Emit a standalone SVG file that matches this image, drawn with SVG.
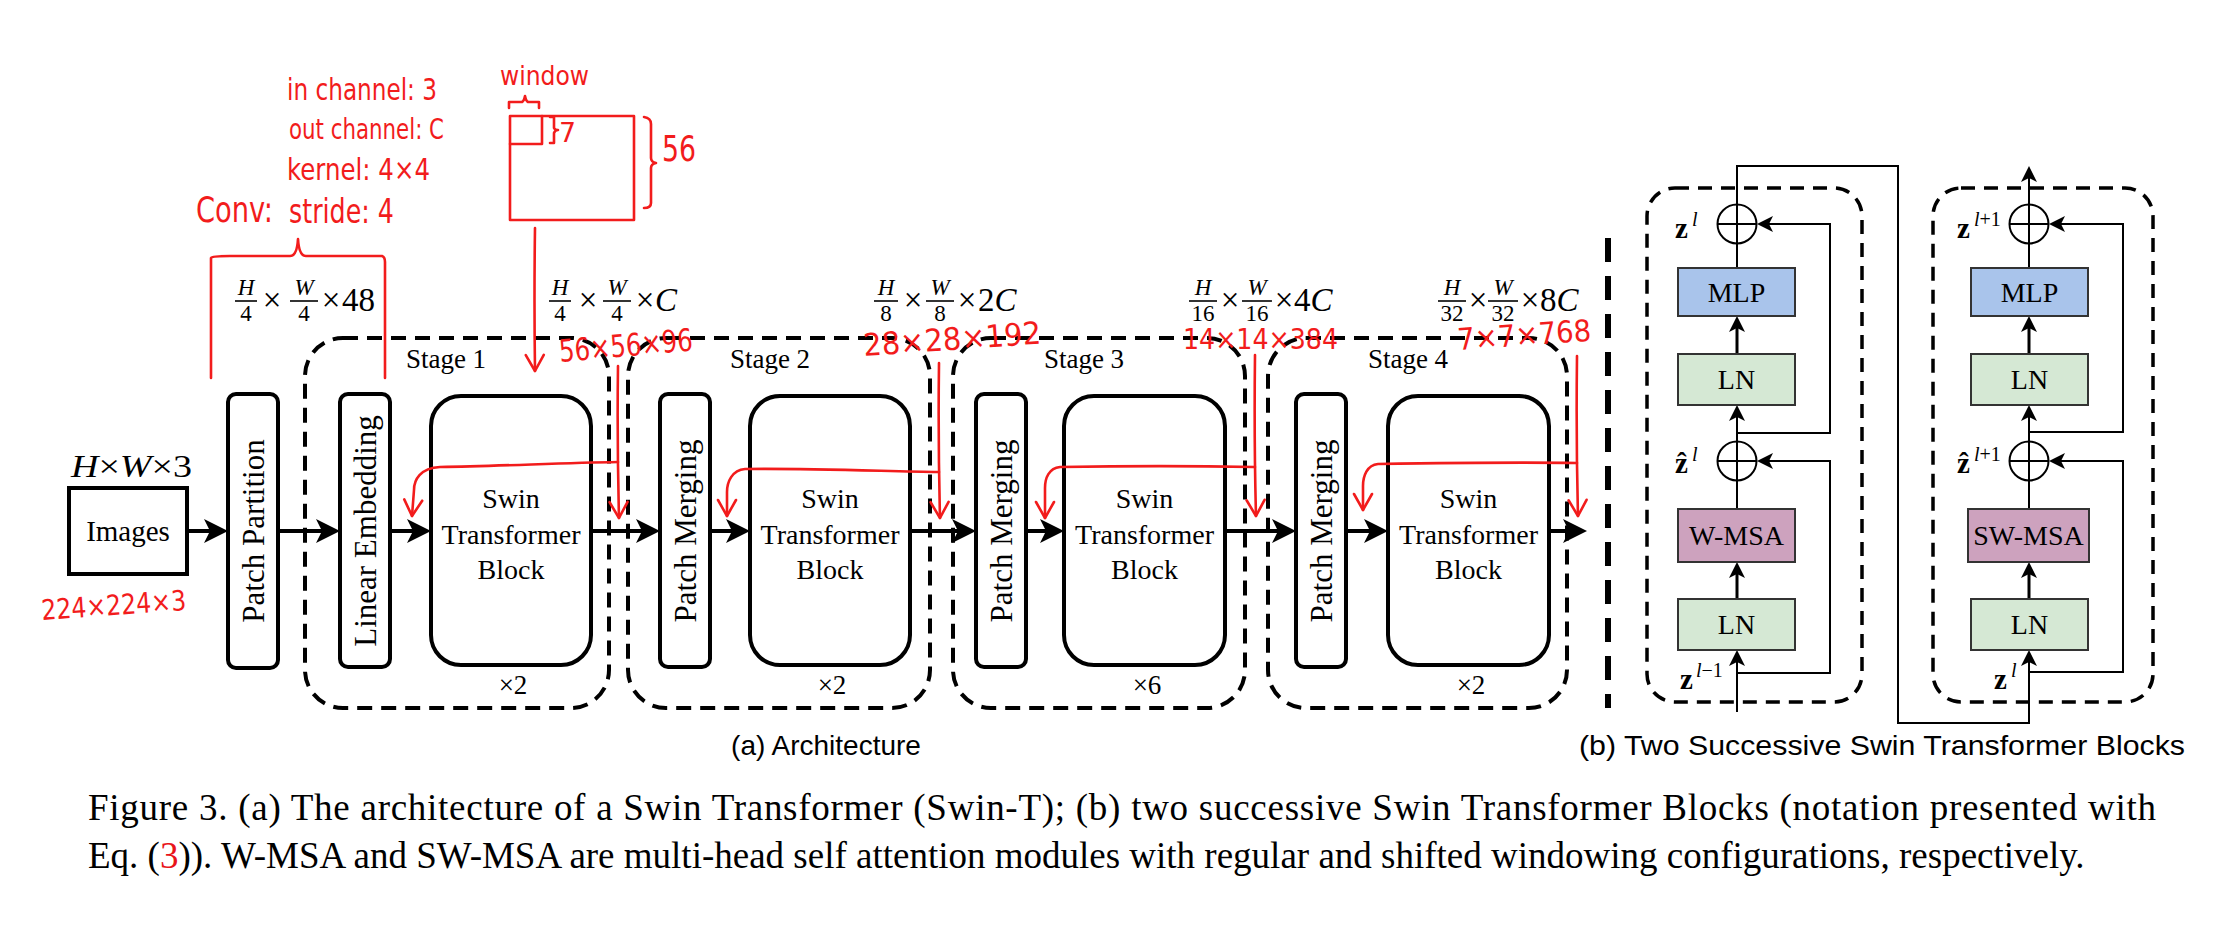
<svg xmlns="http://www.w3.org/2000/svg" width="2233" height="927" viewBox="0 0 2233 927">
<style>
.serif{font-family:"Liberation Serif","Times New Roman",serif;fill:#000}
.sans{font-family:"Liberation Sans",Arial,sans-serif;fill:#000}
.it{font-style:italic}
.bd{font-weight:bold}
.lbl{font-size:28px}
.rot{font-size:31px}
.frac{font-size:23px}
.big{font-size:33px}
.box{fill:#fff;stroke:#000;stroke-width:4}
.stage{fill:none;stroke:#000;stroke-width:4;stroke-dasharray:15 9}
.bdash{fill:none;stroke:#000;stroke-width:3.5;stroke-dasharray:14 9}
.conn{fill:none;stroke:#000;stroke-width:4}
.thin{fill:none;stroke:#000;stroke-width:2}
.mid{fill:none;stroke:#000;stroke-width:3}
.bar{stroke:#000;stroke-width:1.6}
.mlp{fill:#A9C4EB;stroke:#333;stroke-width:2}
.ln{fill:#D5E8D4;stroke:#333;stroke-width:2}
.msa{fill:#CDA2BE;stroke:#333;stroke-width:2}
.red{fill:none;stroke:#f21c1c;stroke-width:2.6;stroke-linecap:round;stroke-linejoin:round}
.rt{font-family:"DejaVu Sans","Liberation Sans",sans-serif;fill:#f21c1c}
</style>
<defs>
<marker id="ah" markerUnits="userSpaceOnUse" markerWidth="24" markerHeight="24" viewBox="0 0 24 24" refX="16" refY="12" orient="auto"><path d="M0,0 L24,12 L0,24 L6,12 z" fill="#000"/></marker>
<marker id="ahs" markerUnits="userSpaceOnUse" markerWidth="16" markerHeight="16" viewBox="0 0 16 16" refX="11" refY="8" orient="auto"><path d="M0,0 L16,8 L0,16 L4,8 z" fill="#000"/></marker>
<marker id="rv" markerUnits="userSpaceOnUse" markerWidth="22" markerHeight="22" viewBox="0 0 22 22" refX="19" refY="11" orient="auto"><path d="M3,2 L19,11 L3,20" fill="none" stroke="#f21c1c" stroke-width="2.6" stroke-linecap="round" stroke-linejoin="round"/></marker>
</defs>

<rect width="2233" height="927" fill="#fff"/>

<!-- Stage containers -->
<g id="stage1"><rect class="stage" x="305" y="338" width="304" height="370" rx="38"/><text class="serif" x="446" y="368" font-size="27" text-anchor="middle">Stage 1</text><text class="serif" x="513" y="694" font-size="27" text-anchor="middle">×2</text></g>
<g id="stage2"><rect class="stage" x="628" y="338" width="302" height="370" rx="38"/><text class="serif" x="770" y="368" font-size="27" text-anchor="middle">Stage 2</text><text class="serif" x="832" y="694" font-size="27" text-anchor="middle">×2</text></g>
<g id="stage3"><rect class="stage" x="953" y="338" width="292" height="370" rx="38"/><text class="serif" x="1084" y="368" font-size="27" text-anchor="middle">Stage 3</text><text class="serif" x="1147" y="694" font-size="27" text-anchor="middle">×6</text></g>
<g id="stage4"><rect class="stage" x="1268" y="338" width="299" height="370" rx="38"/><text class="serif" x="1408" y="368" font-size="27" text-anchor="middle">Stage 4</text><text class="serif" x="1471" y="694" font-size="27" text-anchor="middle">×2</text></g>

<!-- Nodes: architecture -->
<g id="images"><rect class="box" x="69" y="488" width="118" height="86"/><text class="serif" x="128" y="541" font-size="29" text-anchor="middle">Images</text>
<text class="serif it" x="71" y="477" font-size="31" textLength="121" lengthAdjust="spacingAndGlyphs">H<tspan font-style="normal">×</tspan>W<tspan font-style="normal">×3</tspan></text></g>
<g id="patch-partition"><rect class="box" x="228" y="394" width="50" height="274" rx="8"/><text class="serif rot" transform="translate(253,531) rotate(-90)" y="10.5" text-anchor="middle">Patch Partition</text></g>
<g id="linear-embedding"><rect class="box" x="340" y="394" width="50" height="273" rx="8"/><text class="serif rot" transform="translate(365,531) rotate(-90)" y="10.5" text-anchor="middle">Linear Embedding</text></g>
<g id="stb1"><rect class="box" x="431" y="396" width="160" height="269" rx="30"/><text class="serif lbl" text-anchor="middle"><tspan x="511" y="508">Swin</tspan><tspan x="511" y="544">Transformer</tspan><tspan x="511" y="579">Block</tspan></text></g>
<g id="patch-merging2"><rect class="box" x="660" y="394" width="50" height="273" rx="8"/><text class="serif rot" transform="translate(685,531) rotate(-90)" y="10.5" text-anchor="middle">Patch Merging</text></g>
<g id="stb2"><rect class="box" x="750" y="396" width="160" height="269" rx="30"/><text class="serif lbl" text-anchor="middle"><tspan x="830" y="508">Swin</tspan><tspan x="830" y="544">Transformer</tspan><tspan x="830" y="579">Block</tspan></text></g>
<g id="patch-merging3"><rect class="box" x="976" y="394" width="50" height="273" rx="8"/><text class="serif rot" transform="translate(1001,531) rotate(-90)" y="10.5" text-anchor="middle">Patch Merging</text></g>
<g id="stb3"><rect class="box" x="1064" y="396" width="161" height="269" rx="30"/><text class="serif lbl" text-anchor="middle"><tspan x="1144.5" y="508">Swin</tspan><tspan x="1144.5" y="544">Transformer</tspan><tspan x="1144.5" y="579">Block</tspan></text></g>
<g id="patch-merging4"><rect class="box" x="1296" y="394" width="50" height="273" rx="8"/><text class="serif rot" transform="translate(1321,531) rotate(-90)" y="10.5" text-anchor="middle">Patch Merging</text></g>
<g id="stb4"><rect class="box" x="1388" y="396" width="161" height="269" rx="30"/><text class="serif lbl" text-anchor="middle"><tspan x="1468.5" y="508">Swin</tspan><tspan x="1468.5" y="544">Transformer</tspan><tspan x="1468.5" y="579">Block</tspan></text></g>

<!-- Dimension labels (fractions) -->
<g id="dim1" class="serif">
<text class="frac it" x="246" y="295" text-anchor="middle">H</text><line class="bar" x1="235" y1="301" x2="257" y2="301"/><text class="frac" x="246" y="321" text-anchor="middle">4</text>
<text class="big" x="272" y="311" text-anchor="middle">×</text>
<text class="frac it" x="304" y="295" text-anchor="middle">W</text><line class="bar" x1="290" y1="301" x2="318" y2="301"/><text class="frac" x="304" y="321" text-anchor="middle">4</text>
<text class="big" x="331" y="311" text-anchor="middle">×</text><text class="big" x="342" y="311">48</text></g>
<g id="dim2" class="serif">
<text class="frac it" x="560" y="295" text-anchor="middle">H</text><line class="bar" x1="549" y1="301" x2="571" y2="301"/><text class="frac" x="560" y="321" text-anchor="middle">4</text>
<text class="big" x="588" y="311" text-anchor="middle">×</text>
<text class="frac it" x="617" y="295" text-anchor="middle">W</text><line class="bar" x1="603" y1="301" x2="631" y2="301"/><text class="frac" x="617" y="321" text-anchor="middle">4</text>
<text class="big" x="645" y="311" text-anchor="middle">×</text><text class="big it" x="655" y="311">C</text></g>
<g id="dim3" class="serif">
<text class="frac it" x="886" y="295" text-anchor="middle">H</text><line class="bar" x1="874" y1="301" x2="898" y2="301"/><text class="frac" x="886" y="321" text-anchor="middle">8</text>
<text class="big" x="913" y="311" text-anchor="middle">×</text>
<text class="frac it" x="940" y="295" text-anchor="middle">W</text><line class="bar" x1="926" y1="301" x2="954" y2="301"/><text class="frac" x="940" y="321" text-anchor="middle">8</text>
<text class="big" x="967" y="311" text-anchor="middle">×</text><text class="big" x="978" y="311">2<tspan font-style="italic">C</tspan></text></g>
<g id="dim4" class="serif">
<text class="frac it" x="1203" y="295" text-anchor="middle">H</text><line class="bar" x1="1189" y1="301" x2="1217" y2="301"/><text class="frac" x="1203" y="321" text-anchor="middle">16</text>
<text class="big" x="1230" y="311" text-anchor="middle">×</text>
<text class="frac it" x="1257" y="295" text-anchor="middle">W</text><line class="bar" x1="1242" y1="301" x2="1272" y2="301"/><text class="frac" x="1257" y="321" text-anchor="middle">16</text>
<text class="big" x="1284" y="311" text-anchor="middle">×</text><text class="big" x="1294" y="311">4<tspan font-style="italic">C</tspan></text></g>
<g id="dim5" class="serif">
<text class="frac it" x="1452" y="295" text-anchor="middle">H</text><line class="bar" x1="1438" y1="301" x2="1466" y2="301"/><text class="frac" x="1452" y="321" text-anchor="middle">32</text>
<text class="big" x="1478" y="311" text-anchor="middle">×</text>
<text class="frac it" x="1503" y="295" text-anchor="middle">W</text><line class="bar" x1="1488" y1="301" x2="1518" y2="301"/><text class="frac" x="1503" y="321" text-anchor="middle">32</text>
<text class="big" x="1530" y="311" text-anchor="middle">×</text><text class="big" x="1540" y="311">8<tspan font-style="italic">C</tspan></text></g>

<!-- Connectors -->
<g id="connectors">
<line class="conn" x1="187" y1="531" x2="220" y2="531" marker-end="url(#ah)"/>
<line class="conn" x1="278" y1="531" x2="332" y2="531" marker-end="url(#ah)"/>
<line class="conn" x1="390" y1="531" x2="423" y2="531" marker-end="url(#ah)"/>
<line class="conn" x1="591" y1="531" x2="652" y2="531" marker-end="url(#ah)"/>
<line class="conn" x1="710" y1="531" x2="742" y2="531" marker-end="url(#ah)"/>
<line class="conn" x1="910" y1="531" x2="968" y2="531" marker-end="url(#ah)"/>
<line class="conn" x1="1026" y1="531" x2="1056" y2="531" marker-end="url(#ah)"/>
<line class="conn" x1="1225" y1="531" x2="1288" y2="531" marker-end="url(#ah)"/>
<line class="conn" x1="1346" y1="531" x2="1380" y2="531" marker-end="url(#ah)"/>
<line class="conn" x1="1549" y1="531" x2="1579" y2="531" marker-end="url(#ah)"/>
<!-- block b -->
<line class="thin" x1="1737" y1="712" x2="1737" y2="655" marker-end="url(#ahs)"/>
<polyline class="thin" points="1737,673 1830,673 1830,461 1762,461" marker-end="url(#ahs)"/>
<line class="mid" x1="1737" y1="599" x2="1737" y2="567" marker-end="url(#ahs)"/>
<line class="thin" x1="1737" y1="509" x2="1737" y2="480.5"/>
<line class="thin" x1="1737" y1="441.5" x2="1737" y2="410" marker-end="url(#ahs)"/>
<polyline class="thin" points="1737,433 1830,433 1830,224 1762,224" marker-end="url(#ahs)"/>
<line class="mid" x1="1737" y1="354" x2="1737" y2="321" marker-end="url(#ahs)"/>
<line class="thin" x1="1737" y1="268" x2="1737" y2="243.5"/>
<polyline class="thin" points="1737,204.5 1737,166 1898,166 1898,723 2029,723 2029,655" marker-end="url(#ahs)"/>
<polyline class="thin" points="2029,672 2123,672 2123,461 2054,461" marker-end="url(#ahs)"/>
<line class="mid" x1="2029" y1="599" x2="2029" y2="567" marker-end="url(#ahs)"/>
<line class="thin" x1="2029" y1="509" x2="2029" y2="480.5"/>
<line class="thin" x1="2029" y1="441.5" x2="2029" y2="410" marker-end="url(#ahs)"/>
<polyline class="thin" points="2029,432 2123,432 2123,224 2054,224" marker-end="url(#ahs)"/>
<line class="mid" x1="2029" y1="354" x2="2029" y2="321" marker-end="url(#ahs)"/>
<line class="thin" x1="2029" y1="268" x2="2029" y2="243.5"/>
<line class="thin" x1="2029" y1="204.5" x2="2029" y2="171" marker-end="url(#ahs)"/>
</g>

<!-- separator -->
<line x1="1608" y1="238" x2="1608" y2="708" stroke="#000" stroke-width="6" stroke-dasharray="24 14"/>

<!-- Block b containers -->
<g id="block-l"><rect class="bdash" x="1647" y="188" width="215" height="514" rx="28"/></g>
<g id="block-r"><rect class="bdash" x="1933" y="188" width="220" height="514" rx="28"/></g>

<g id="mlp-l"><rect class="mlp" x="1678" y="268" width="117" height="48"/><text class="serif lbl" x="1736.5" y="302" text-anchor="middle">MLP</text></g>
<g id="ln2-l"><rect class="ln" x="1678" y="354" width="117" height="51"/><text class="serif lbl" x="1736.5" y="389" text-anchor="middle">LN</text></g>
<g id="wmsa"><rect class="msa" x="1678" y="509" width="117" height="53"/><text class="serif lbl" x="1736.5" y="545" text-anchor="middle">W-MSA</text></g>
<g id="ln1-l"><rect class="ln" x="1678" y="599" width="117" height="51"/><text class="serif lbl" x="1736.5" y="634" text-anchor="middle">LN</text></g>
<g id="add2-l"><circle cx="1737" cy="224" r="19.5" fill="none" stroke="#000" stroke-width="2"/><path class="thin" d="M1717.5,224 H1756.5 M1737,204.5 V243.5"/></g>
<g id="add1-l"><circle cx="1737" cy="461" r="19.5" fill="none" stroke="#000" stroke-width="2"/><path class="thin" d="M1717.5,461 H1756.5 M1737,441.5 V480.5"/></g>

<g id="mlp-r"><rect class="mlp" x="1971" y="268" width="117" height="48"/><text class="serif lbl" x="2029.5" y="302" text-anchor="middle">MLP</text></g>
<g id="ln2-r"><rect class="ln" x="1971" y="354" width="117" height="51"/><text class="serif lbl" x="2029.5" y="389" text-anchor="middle">LN</text></g>
<g id="swmsa"><rect class="msa" x="1968" y="509" width="121" height="53"/><text class="serif lbl" x="2028.5" y="545" text-anchor="middle">SW-MSA</text></g>
<g id="ln1-r"><rect class="ln" x="1971" y="599" width="117" height="51"/><text class="serif lbl" x="2029.5" y="634" text-anchor="middle">LN</text></g>
<g id="add2-r"><circle cx="2029" cy="224" r="19.5" fill="none" stroke="#000" stroke-width="2"/><path class="thin" d="M2009.5,224 H2048.5 M2029,204.5 V243.5"/></g>
<g id="add1-r"><circle cx="2029" cy="461" r="19.5" fill="none" stroke="#000" stroke-width="2"/><path class="thin" d="M2009.5,461 H2048.5 M2029,441.5 V480.5"/></g>

<g id="zlabels" class="serif">
<text x="1675" y="238" font-size="29" font-weight="bold">z</text><text x="1692" y="226" font-size="20" font-style="italic">l</text>
<text x="1675" y="473" font-size="29" font-weight="bold">ẑ</text><text x="1692" y="461" font-size="20" font-style="italic">l</text>
<text x="1680" y="689" font-size="29" font-weight="bold">z</text><text x="1696" y="677" font-size="20"><tspan font-style="italic">l</tspan>−1</text>
<text x="1957" y="238" font-size="29" font-weight="bold">z</text><text x="1974" y="226" font-size="20"><tspan font-style="italic">l</tspan>+1</text>
<text x="1957" y="473" font-size="29" font-weight="bold">ẑ</text><text x="1974" y="461" font-size="20"><tspan font-style="italic">l</tspan>+1</text>
<text x="1994" y="689" font-size="29" font-weight="bold">z</text><text x="2011" y="677" font-size="20" font-style="italic">l</text>
</g>

<!-- Red annotations -->
<g id="annotations">
<text class="rt" x="287" y="100" font-size="31" textLength="150" lengthAdjust="spacingAndGlyphs">in channel: 3</text>
<text class="rt" x="289" y="139" font-size="29" textLength="155" lengthAdjust="spacingAndGlyphs">out channel: C</text>
<text class="rt" x="287" y="180" font-size="31" textLength="143" lengthAdjust="spacingAndGlyphs">kernel: 4×4</text>
<text class="rt" x="196" y="222" font-size="35" textLength="77" lengthAdjust="spacingAndGlyphs">Conv:</text>
<text class="rt" x="289" y="223" font-size="33" textLength="105" lengthAdjust="spacingAndGlyphs">stride: 4</text>
<path class="red" d="M211,378 V258 Q212,256 230,256 H290 Q297,256 298,239 Q299,256 306,256 H382 Q385,257 385,262 V378"/>
<text class="rt" x="500" y="85" font-size="27" textLength="89" lengthAdjust="spacingAndGlyphs">window</text>
<path class="red" d="M509,108 V102 H522 Q524,101 525,96 Q526,101 528,102 H539 V108"/>
<path class="red" d="M510,116 H634 V220 H510 Z"/>
<path class="red" d="M510,144 H542 V116"/>
<path class="red" d="M550,117 H554 V128 Q555,130 558,130 Q555,130 554,133 V143 H550"/>
<text class="rt" x="559" y="142" font-size="27" textLength="17" lengthAdjust="spacingAndGlyphs">7</text>
<path class="red" d="M644,117 Q651,118 651,124 V158 Q651,162 656,163 Q651,164 651,168 V203 Q651,208 644,208"/>
<text class="rt" x="662" y="161" font-size="35" textLength="34" lengthAdjust="spacingAndGlyphs">56</text>
<path class="red" d="M535,228 Q534,300 535,371" marker-end="url(#rv)"/>
<text class="rt" x="560" y="362" font-size="31" textLength="134" lengthAdjust="spacingAndGlyphs" transform="rotate(-5 560 362)">56×56×96</text>
<text class="rt" x="864" y="356" font-size="31" textLength="178" lengthAdjust="spacingAndGlyphs" transform="rotate(-4 864 356)">28×28×192</text>
<text class="rt" x="1183" y="349" font-size="28" textLength="155" lengthAdjust="spacingAndGlyphs">14×14×384</text>
<text class="rt" x="1458" y="350" font-size="30" textLength="134" lengthAdjust="spacingAndGlyphs" transform="rotate(-4 1458 350)">7×7×768</text>
<text class="rt" x="42" y="620" font-size="28" textLength="145" lengthAdjust="spacingAndGlyphs" transform="rotate(-4 42 620)">224×224×3</text>
<!-- feedback arrows -->
<path class="red" d="M618,366 Q617,440 619,518" marker-end="url(#rv)"/>
<path class="red" d="M618,462 C560,463 500,466 440,467 C420,468 414,480 414,490 L412,516" marker-end="url(#rv)"/>
<path class="red" d="M939,363 Q938,440 940,518" marker-end="url(#rv)"/>
<path class="red" d="M939,472 C880,471 800,468 745,469 C732,470 727,482 727,492 L727,516" marker-end="url(#rv)"/>
<path class="red" d="M1255,355 Q1254,440 1256,516" marker-end="url(#rv)"/>
<path class="red" d="M1255,467 C1200,466 1120,466 1060,467 C1049,468 1045,478 1045,488 L1045,518" marker-end="url(#rv)"/>
<path class="red" d="M1577,356 Q1576,440 1578,516" marker-end="url(#rv)"/>
<path class="red" d="M1577,463 C1520,462 1440,463 1378,464 C1367,465 1363,476 1363,486 L1363,510" marker-end="url(#rv)"/>
</g>

<!-- Captions -->
<text class="sans" x="826" y="755" font-size="28" text-anchor="middle">(a) Architecture</text>
<text class="sans" x="1882" y="755" font-size="28" text-anchor="middle" textLength="606" lengthAdjust="spacingAndGlyphs">(b) Two Successive Swin Transformer Blocks</text>
<text class="serif" x="88" y="820" font-size="37" textLength="2068" lengthAdjust="spacing">Figure 3. (a) The architecture of a Swin Transformer (Swin-T); (b) two successive Swin Transformer Blocks (notation presented with</text>
<text class="serif" x="88" y="868" font-size="37">Eq. (<tspan fill="#e8141a">3</tspan>)). W-MSA and SW-MSA are multi-head self attention modules with regular and shifted windowing configurations, respectively.</text>
</svg>
